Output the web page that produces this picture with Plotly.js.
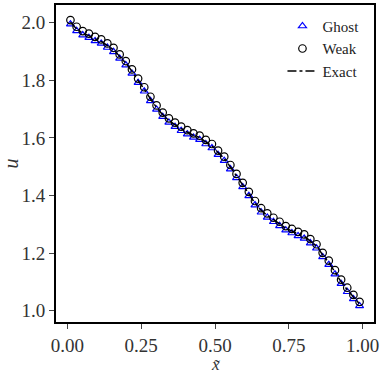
<!DOCTYPE html>
<html>
<head>
<meta charset="utf-8">
<script src="https://cdn.plot.ly/plotly-3.0.1.min.js"></script>
<style>html,body{margin:0;padding:0;background:#fff;}#chart{width:382px;height:374px;}</style>
</head>
<body>
<div id="chart"></div>
<script>
const xVals = [0.0104,0.0313,0.0521,0.0729,0.0938,0.1146,0.1354,0.1563,0.1771,0.1979,0.2188,0.2396,0.2604,0.2813,0.3021,0.3229,0.3438,0.3646,0.3854,0.4063,0.4271,0.4479,0.4688,0.4896,0.5104,0.5313,0.5521,0.5729,0.5938,0.6146,0.6354,0.6563,0.6771,0.6979,0.7188,0.7396,0.7604,0.7813,0.8021,0.8229,0.8438,0.8646,0.8854,0.9063,0.9271,0.9479,0.9688,0.9896];
const ghost = [1.995,1.972,1.957,1.948,1.937,1.928,1.914,1.899,1.876,1.853,1.824,1.792,1.762,1.729,1.699,1.674,1.654,1.639,1.625,1.613,1.602,1.594,1.579,1.565,1.542,1.521,1.492,1.461,1.430,1.399,1.367,1.342,1.324,1.309,1.295,1.280,1.270,1.260,1.251,1.235,1.217,1.187,1.160,1.127,1.094,1.066,1.041,1.017];
const weak = [2.009,1.986,1.971,1.962,1.951,1.942,1.928,1.913,1.890,1.867,1.838,1.806,1.776,1.743,1.713,1.688,1.668,1.653,1.639,1.627,1.616,1.608,1.593,1.579,1.556,1.535,1.506,1.475,1.444,1.413,1.381,1.356,1.338,1.323,1.309,1.294,1.284,1.274,1.265,1.249,1.231,1.201,1.174,1.141,1.108,1.080,1.055,1.031];
const exact = [2.002,1.979,1.964,1.955,1.944,1.935,1.921,1.906,1.883,1.860,1.831,1.799,1.769,1.736,1.706,1.681,1.661,1.646,1.632,1.620,1.609,1.601,1.586,1.572,1.549,1.528,1.499,1.468,1.437,1.406,1.374,1.349,1.331,1.316,1.302,1.287,1.277,1.267,1.258,1.242,1.224,1.194,1.167,1.134,1.101,1.073,1.048,1.024];
const seriesNames = ["Ghost", "Weak", "Exact"];
const xTicks = [0, 0.25, 0.5, 0.75, 1.0];
const yTicks = [1.0, 1.2, 1.4, 1.6, 1.8, 2.0];

const font = "Liberation Serif, Times New Roman, serif";
const traces = [
  {x: xVals, y: ghost, name: seriesNames[0], mode: "markers", type: "scatter",
   marker: {symbol: "triangle-up-open", size: 7, color: "#0000ff", line: {width: 1.2, color: "#0000ff"}}},
  {x: xVals, y: weak, name: seriesNames[1], mode: "markers", type: "scatter",
   marker: {symbol: "circle-open", size: 7.5, color: "#000000", line: {width: 1.2, color: "#000000"}}},
  {x: xVals, y: exact, name: seriesNames[2], mode: "lines", type: "scatter",
   line: {color: "#000000", width: 1.5, dash: "dashdot", shape: "spline"}}
];
const layout = {
  width: 382, height: 374,
  margin: {l: 56, r: 8, t: 5, b: 52},
  paper_bgcolor: "#fff", plot_bgcolor: "#fff",
  font: {family: font, color: "#000", size: 18},
  showlegend: true,
  legend: {x: 0.97, xanchor: "right", y: 0.985, yanchor: "top", bgcolor: "rgba(0,0,0,0)",
           font: {family: font, size: 15, color: "#222"}, tracegroupgap: 0},
  xaxis: {range: [-0.0385, 1.0385], tickvals: xTicks, tickformat: ".2f", ticks: "outside", ticklen: 5, tickwidth: 1,
          showline: true, mirror: true, linewidth: 2, linecolor: "#000", showgrid: false, zeroline: false,
          tickfont: {family: font, size: 19, color: "#333"}},
  yaxis: {range: [0.961, 2.0615], tickvals: yTicks, tickformat: ".1f", ticks: "outside", ticklen: 5, tickwidth: 1,
          showline: true, mirror: true, linewidth: 2, linecolor: "#000", showgrid: false, zeroline: false,
          tickfont: {family: font, size: 19, color: "#333"},
          title: {text: "<i>u</i>", font: {family: font, size: 20, color: "#333"}, standoff: 8}},
  annotations: [{text: "<i>x̃</i>", xref: "paper", yref: "paper", x: 0.5, y: -0.134,
                 xanchor: "center", yanchor: "middle", showarrow: false, borderpad: 0,
                 font: {family: font, size: 17, color: "#333"}}]
};
Plotly.newPlot("chart", traces, layout, {staticPlot: true, displayModeBar: false});
</script>
</body>
</html>
